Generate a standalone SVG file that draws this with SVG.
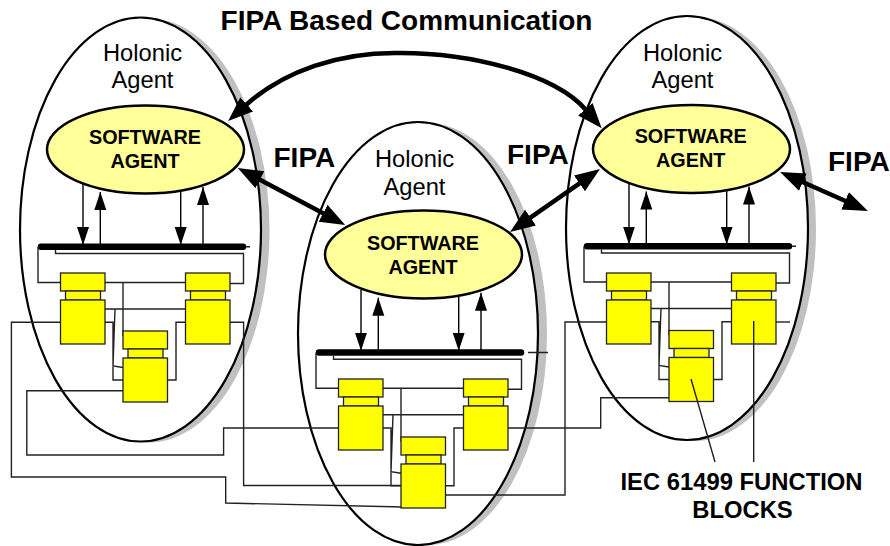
<svg xmlns="http://www.w3.org/2000/svg" width="890" height="546" viewBox="0 0 890 546">
<style>
.holon{fill:#fff;stroke:#000;stroke-width:2.2}
.shadow{fill:#c0c0c0;stroke:none}
.agent{fill:#ffff99;stroke:#000;stroke-width:2.5}
.fb{fill:#ffff00;stroke:#222;stroke-width:1.3}
.wire{fill:none;stroke:#222;stroke-width:1.4}
.thin{fill:none;stroke:#000;stroke-width:1.4}
.thick{fill:none;stroke:#000;stroke-width:4.5}
.bar{stroke:#000;stroke-width:6.5;stroke-linecap:round}
text{font-family:"Liberation Sans",Arial,sans-serif;fill:#000;text-anchor:middle}
.hl{font-size:23.7px}
.sa{font-size:19.8px;font-weight:bold}
.lb{font-size:28px;font-weight:bold;text-anchor:start}
.ttl{font-size:28px;font-weight:bold}
.iec{font-size:23.8px;font-weight:bold}
</style>
<defs>
<marker id="sm" markerUnits="userSpaceOnUse" markerWidth="19" markerHeight="14" refX="18" refY="6" orient="auto"><path d="M0 0L18 6L0 12Z" fill="#000"/></marker>
<marker id="big" markerUnits="userSpaceOnUse" markerWidth="27" markerHeight="20" refX="1" refY="9.5" orient="auto-start-reverse"><path d="M0 0L25 9.5L0 19Z" fill="#000"/></marker>
<g id="fb">
<rect class="fb" x="0" y="0" width="44.5" height="18"/>
<rect class="fb" x="5" y="18" width="35" height="9"/>
<rect class="fb" x="0" y="27" width="44.5" height="44"/>
</g>
<g id="local">
<line class="bar" x1="41" y1="246.7" x2="243" y2="246.7"/>
<path class="wire" d="M38 247V282.5H60.5M55.5 250V253.5H243.5V283.5H230M105 282.5H185.5M123 282.5V336M105 309H185.5M115 309L113 366L123 367.5M105 322.3H113V380H123M185.5 322.3H176V380H167"/>
<path class="thin" d="M83 184V245" marker-end="url(#sm)"/>
<path class="thin" d="M100.3 246V192" marker-end="url(#sm)"/>
<path class="thin" d="M180.7 191V245" marker-end="url(#sm)"/>
<path class="thin" d="M203 246V187" marker-end="url(#sm)"/>
</g>
</defs>

<g id="holon-left">
<ellipse class="shadow" cx="149" cy="230.5" rx="120.5" ry="212"/>
<ellipse class="holon" cx="140.5" cy="229.5" rx="120.5" ry="212"/>
<text class="hl" x="142.5" y="60.7">Holonic</text>
<text class="hl" x="142.5" y="88.3">Agent</text>
</g>
<g id="holon-middle">
<ellipse class="shadow" cx="427" cy="334" rx="120" ry="211"/>
<ellipse class="holon" cx="418" cy="333.5" rx="120" ry="211.5"/>
<text class="hl" x="414.5" y="166.7">Holonic</text>
<text class="hl" x="414.5" y="195">Agent</text>
</g>
<g id="holon-right">
<ellipse class="shadow" cx="695" cy="229" rx="121" ry="212"/>
<ellipse class="holon" cx="687" cy="228" rx="121" ry="212"/>
<text class="hl" x="682.5" y="60.7">Holonic</text>
<text class="hl" x="682.5" y="88.3">Agent</text>
</g>

<g id="agent-left">
<ellipse class="agent" cx="145.5" cy="149.5" rx="98.5" ry="44"/>
<text class="sa" x="145" y="144">SOFTWARE</text>
<text class="sa" x="145" y="168">AGENT</text>
</g>
<g id="agent-middle">
<ellipse class="agent" cx="423.5" cy="254.5" rx="98.5" ry="44"/>
<text class="sa" x="423" y="250">SOFTWARE</text>
<text class="sa" x="423" y="274">AGENT</text>
</g>
<g id="agent-right">
<ellipse class="agent" cx="691.5" cy="149" rx="98.5" ry="44"/>
<text class="sa" x="690.7" y="142.7">SOFTWARE</text>
<text class="sa" x="690.7" y="166.7">AGENT</text>
</g>

<g id="connectors">
<use href="#local"/>
<use href="#local" transform="translate(278,105.7)"/>
<use href="#local" transform="translate(546,-0.5)"/>
<path class="wire" d="M246 246.7H250M528 352.5H548M792 246.2H796"/>
<path class="wire" d="M60.5 322.3H11.4V477H225.7V503L404 507"/>
<path class="wire" d="M230 322.3H243.6V485.5H401"/>
<path class="wire" d="M123 390.7H26.8V455H223.6V428H338"/>
<path class="wire" d="M508 428H600.7V397.7H669"/>
<path class="wire" d="M446 495H565V322H606.7"/>
<path class="wire" d="M776 322H790"/>
<path class="thick" d="M246 105C285 70 340 53 395 53C470 52 555 74 586 110" marker-start="url(#big)" marker-end="url(#big)"/>
<path class="thick" d="M259 179.3L324 213.7" marker-start="url(#big)" marker-end="url(#big)"/>
<path class="thick" d="M529.7 218.2L580.3 182.8" marker-start="url(#big)" marker-end="url(#big)"/>
<path class="thick" d="M802 181.7L846 201.3" marker-start="url(#big)" marker-end="url(#big)"/>
</g>

<g id="fb-left-1" transform="translate(60.5,273)"><use href="#fb"/></g>
<g id="fb-left-2" transform="translate(185.5,273)"><use href="#fb"/></g>
<g id="fb-left-3" transform="translate(123,331)"><use href="#fb"/></g>
<g id="fb-middle-1" transform="translate(338.5,379)"><use href="#fb"/></g>
<g id="fb-middle-2" transform="translate(463.5,379)"><use href="#fb"/></g>
<g id="fb-middle-3" transform="translate(401,437)"><use href="#fb"/></g>
<g id="fb-right-1" transform="translate(606.5,273)"><use href="#fb"/></g>
<g id="fb-right-2" transform="translate(731.5,273)"><use href="#fb"/></g>
<g id="fb-right-3" transform="translate(669,330.5)"><use href="#fb"/></g>

<g id="callouts">
<path class="wire" d="M691 379L715 462M753.7 321V462"/>
</g>
<g id="labels">
<text class="ttl" x="406.5" y="29.5">FIPA Based Communication</text>
<text class="lb" x="273.5" y="166.7">FIPA</text>
<text class="lb" x="507" y="164.3">FIPA</text>
<text class="lb" x="828" y="171">FIPA</text>
<text class="iec" x="741.5" y="490">IEC 61499 FUNCTION</text>
<text class="iec" x="742.5" y="518">BLOCKS</text>
</g>
</svg>
